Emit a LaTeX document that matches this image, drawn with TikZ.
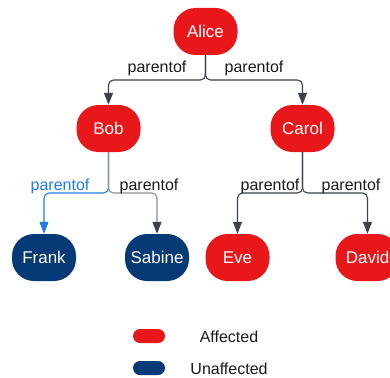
\documentclass[tikz,border=0pt]{standalone}
\usepackage{fontspec}
\setmainfont{Liberation Sans}
\usetikzlibrary{arrows.meta}
\definecolor{affred}{HTML}{E8171A}
\definecolor{unaff}{HTML}{063A76}
\definecolor{edgegray}{HTML}{3B424B}
\definecolor{lightgray}{HTML}{8A8F96}
\definecolor{edgeblue}{HTML}{1F7BEA}
\definecolor{labtext}{HTML}{1A1A1A}
\tikzset{
  person/.style={draw=none, rounded corners=22pt, minimum width=64pt, minimum height=47pt,
    inner sep=0pt, text=white, font=\fontsize{17}{20}\selectfont},
  aff/.style={person, fill=affred},
  unf/.style={person, fill=unaff},
  edge/.style={draw=edgegray, line width=1.1pt, rounded corners=5pt,
    -{Triangle[width=9pt,length=12pt]}},
  lab/.style={text=labtext, font=\fontsize{16}{19}\selectfont, inner sep=0pt},
  legpill/.style={draw=none, rounded corners=7pt, minimum width=32pt, minimum height=14pt, inner sep=0pt},
}
\begin{document}
\begin{tikzpicture}[x=1pt,y=-1pt]
\useasboundingbox (0,0) rectangle (390,377);
\clip (0,0) rectangle (390,377);
% nodes
\node[aff] (alice) at (205.5,31.5) {Alice};
\node[aff] (bob) at (108.5,128.5) {Bob};
\node[aff] (carol) at (302.5,128.5) {Carol};
\node[unf] (frank) at (44,257.5) {Frank};
\node[unf] (sabine) at (157,257.5) {Sabine};
\node[aff] (eve) at (237.5,257.5) {Eve};
\node[aff] (david) at (367.5,257.5) {David};
% junction coordinates
\coordinate (ja) at (205.5,80);
\coordinate (jb) at (108.5,193);
\coordinate (jc) at (302.5,193);
% edges from Alice
\draw[edge] (alice.south) -- (ja) -- (bob.north |- ja) -- (bob.north);
\draw[edge] (alice.south) -- (ja) -- (carol.north |- ja) -- (carol.north);
% edges from Bob
\draw[edge, draw=edgeblue] (bob.south) -- (jb) -- (frank.north |- jb) -- (frank.north);
\draw[edge, draw=lightgray, -{Triangle[width=9pt,length=12pt,color=edgegray,fill=edgegray]}] (bob.south) -- (jb) -- (sabine.north |- jb) -- (sabine.north);
% edges from Carol
\draw[edge] (carol.south) -- (jc) -- (eve.north |- jc) -- (eve.north);
\draw[edge] (carol.south) -- (jc) -- (david.north |- jc) -- (david.north);
% labels
\node[lab] (l1) at (157,68) {parentof};
\node[lab] (l2) at (254,68) {parentof};
\node[lab, text=edgeblue] (l3) at (60,186) {parentof};
\node[lab] (l4) at (149,186) {parentof};
\node[lab] (l5) at (270,186) {parentof};
\node[lab] (l6) at (351,186) {parentof};
% legend
\node[legpill, fill=affred] (leg1) at (149,336) {};
\node[legpill, fill=unaff] (leg2) at (149,368) {};
\node[lab] (legt1) at (229,337) {Affected};
\node[lab] (legt2) at (229,369) {Unaffected};
\end{tikzpicture}
\end{document}
